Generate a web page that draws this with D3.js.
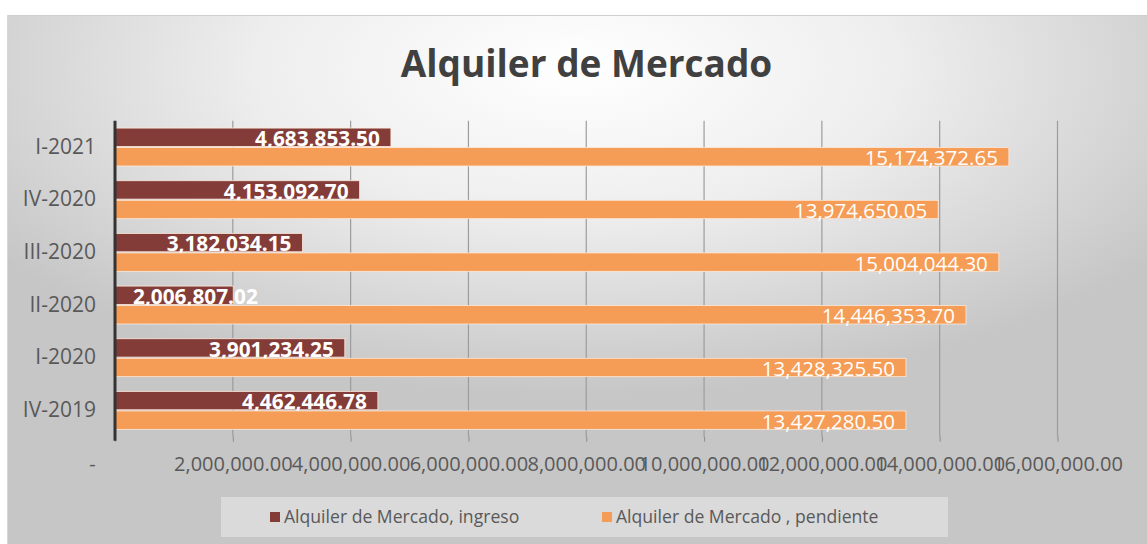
<!DOCTYPE html>
<html>
<head>
<meta charset="utf-8">
<script src="https://cdn.jsdelivr.net/npm/d3@7"></script>
<style>
  html, body { margin: 0; padding: 0; background: #fff; }
  svg { display: block; font-family: "Open Sans", sans-serif; }
</style>
</head>
<body>
<div class="barchart"></div>
<script>
// quarters, top to bottom as drawn
const categories = ['I-2021', 'IV-2020', 'III-2020', 'II-2020', 'I-2020', 'IV-2019'];
const ingreso = [4683853.50, 4153092.70, 3182034.15, 2006807.02, 3901234.25, 4462446.78];
const pendiente = [15174372.65, 13974650.05, 15004044.30, 14446353.70, 13428325.50, 13427280.50];
const seriesNames = ['Alquiler de Mercado, ingreso', 'Alquiler de Mercado , pendiente'];
const xTicks = [0, 2e6, 4e6, 6e6, 8e6, 10e6, 12e6, 14e6, 16e6];
const title = 'Alquiler de Mercado';

const width = 1147, height = 544;
const margin = { top: 120.7, right: 89.5, bottom: 107.3, left: 115 };
const colors = ['#843c39', '#f59d56'];

let svg = d3.select('.barchart').append('svg')
    .attr('width', width)
    .attr('height', height);

// background with soft radial shading
let defs = svg.append('defs');
let grad = defs.append('radialGradient')
    .attr('id', 'bg')
    .attr('cx', '0.5').attr('cy', '0.1').attr('r', '0.62');
grad.append('stop').attr('offset', '0').attr('stop-color', '#ffffff');
grad.append('stop').attr('offset', '0.45').attr('stop-color', '#eeeeee');
grad.append('stop').attr('offset', '1').attr('stop-color', '#c6c6c6');

svg.append('rect')
    .attr('x', 7).attr('y', 15)
    .attr('width', width - 7).attr('height', height - 15)
    .attr('fill', 'url(#bg)');
svg.append('line')
    .attr('x1', 7).attr('x2', width).attr('y1', 15.5).attr('y2', 15.5)
    .attr('stroke', '#cfcfcf');
svg.append('line')
    .attr('x1', 7.5).attr('x2', 7.5).attr('y1', 15).attr('y2', height)
    .attr('stroke', '#d6d6d6');

// title
svg.append('text')
    .attr('x', 586.5).attr('y', 77)
    .attr('text-anchor', 'middle')
    .attr('font-size', 37)
    .attr('font-weight', 'bold')
    .attr('fill', '#404040')
    .text(title);

let x = d3.scaleLinear()
    .domain([0, 16e6])
    .range([margin.left, width - margin.right]);

let y = d3.scaleBand()
    .domain(categories)
    .range([margin.top, height - margin.bottom])
    .paddingInner(0.28)
    .paddingOuter(0.14);

let ySub = d3.scaleBand()
    .domain([0, 1])
    .range([0, y.bandwidth()])
    .paddingInner(0.06);

// gridlines
svg.append('g')
    .selectAll('line')
    .data(xTicks.slice(1))
    .join('line')
    .attr('x1', d => x(d)).attr('x2', d => x(d))
    .attr('y1', margin.top).attr('y2', height - margin.bottom)
    .attr('stroke', '#9c9c9c')
    .attr('stroke-width', 1.2);

// x axis: ticks only, accounting style labels
let xAxis = svg.append('g')
    .attr('transform', `translate(0,${height - margin.bottom})`)
    .call(d3.axisBottom(x)
        .tickValues(xTicks)
        .tickSize(5)
        .tickPadding(15)
        .tickFormat(d => d === 0 ? '-' : d3.format(',.2f')(d)));
xAxis.select('.domain').remove();
xAxis.selectAll('.tick line').attr('stroke', '#8c8c8c');
xAxis.selectAll('.tick text')
    .attr('font-size', 20)
    .attr('fill', '#595959')
    .attr('font-family', '"Open Sans", sans-serif')
    .attr('dx', d => d === 0 ? -23 : 0);

// y axis labels
let yAxis = svg.append('g')
    .attr('transform', `translate(${margin.left},0)`)
    .call(d3.axisLeft(y).tickSize(0).tickPadding(19));
yAxis.select('.domain').remove();
yAxis.selectAll('.tick text')
    .attr('font-size', 21)
    .attr('fill', '#595959')
    .attr('font-family', '"Open Sans", sans-serif');

// bars
const series = [ingreso, pendiente];
series.forEach((vals, s) => {
    let g = svg.append('g');
    g.selectAll('rect')
        .data(vals)
        .join('rect')
        .attr('x', x(0))
        .attr('y', (d, i) => y(categories[i]) + ySub(s))
        .attr('width', d => x(d) - x(0))
        .attr('height', ySub.bandwidth())
        .attr('fill', colors[s])
        .attr('stroke', '#fde9da')
        .attr('stroke-width', 0.8);

    let labels = g.selectAll('text')
        .data(vals)
        .join('text')
        .attr('y', (d, i) => y(categories[i]) + ySub(s) + ySub.bandwidth() - 0.5)
        .attr('font-size', s === 0 ? 20.8 : 20.5)
        .attr('font-weight', s === 0 ? 'bold' : 'normal')
        .attr('fill', '#fff')
        .text(d => d3.format(',.2f')(d));

    labels.each(function(d) {
        let t = d3.select(this);
        let w = this.getComputedTextLength();
        let barW = x(d) - x(0);
        if (w + 22 > barW) {
            t.attr('x', x(0) + 18).attr('text-anchor', 'start');
        } else {
            t.attr('x', x(d) - 11).attr('text-anchor', 'end');
        }
    });
});

// vertical category axis line
svg.append('line')
    .attr('x1', x(0)).attr('x2', x(0))
    .attr('y1', margin.top).attr('y2', height - margin.bottom + 4)
    .attr('stroke', '#333')
    .attr('stroke-width', 3);

// legend
let legend = svg.append('g');
legend.append('rect')
    .attr('x', 221).attr('y', 497)
    .attr('width', 727).attr('height', 40)
    .attr('fill', '#ffffff')
    .attr('fill-opacity', 0.35);

const legendX = [270, 602];
seriesNames.forEach((name, s) => {
    legend.append('rect')
        .attr('x', legendX[s]).attr('y', 512)
        .attr('width', 10).attr('height', 10)
        .attr('fill', colors[s]);
    legend.append('text')
        .attr('x', legendX[s] + 14).attr('y', 523)
        .attr('font-size', 17.6)
        .attr('fill', '#595959')
        .text(name);
});
</script>
</body>
</html>
